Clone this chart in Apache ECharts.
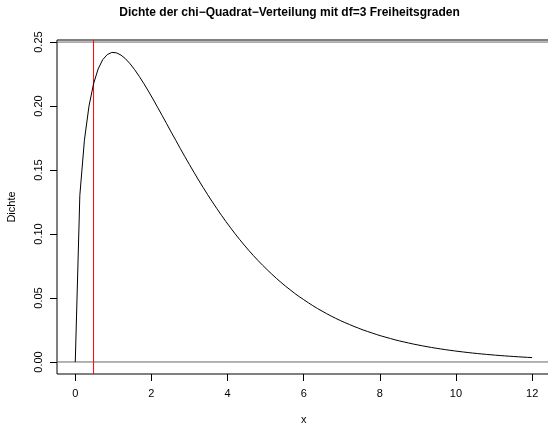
<!DOCTYPE html>
<html>
<head>
<meta charset="utf-8">
<script src="https://cdn.jsdelivr.net/npm/echarts@6/dist/echarts.min.js"></script>
<style>
html,body{margin:0;padding:0;background:#fff;overflow:hidden;}
#chart{width:548px;height:424px;}
</style>
</head>
<body>
<div id="chart"></div>
<script>
var titleText = 'Dichte der chi\u2212Quadrat\u2212Verteilung mit df=3 Freiheitsgraden';
var xName = 'x';
var yName = 'Dichte';
var xTicks = [0, 2, 4, 6, 8, 10, 12];
var yTicks = [0, 0.05, 0.10, 0.15, 0.20, 0.25];
var xRange = [-0.48, 12.48];
var yRange = [-0.0094, 0.2516];
var hLines = [0, 0.25];
var vLine = 0.48;
var xs = [0,0.12,0.24,0.36,0.48,0.6,0.72,0.84,0.96,1.08,1.2,1.32,1.44,1.56,1.68,1.8,1.92,2.04,2.16,2.28,2.4,2.52,2.64,2.76,2.88,3,3.12,3.24,3.36,3.48,3.6,3.72,3.84,3.96,4.08,4.2,4.32,4.44,4.56,4.68,4.8,4.92,5.04,5.16,5.28,5.4,5.52,5.64,5.76,5.88,6,6.12,6.24,6.36,6.48,6.6,6.72,6.84,6.96,7.08,7.2,7.32,7.44,7.56,7.68,7.8,7.92,8.04,8.16,8.28,8.4,8.52,8.64,8.76,8.88,9,9.12,9.24,9.36,9.48,9.6,9.72,9.84,9.96,10.08,10.2,10.32,10.44,10.56,10.68,10.8,10.92,11.04,11.16,11.28,11.4,11.52,11.64,11.76,11.88,12];
var ys = [0,0.1302,0.1733,0.1999,0.2174,0.2289,0.2362,0.2402,0.2419,0.2416,0.2398,0.2369,0.2330,0.2284,0.2232,0.2176,0.2117,0.2055,0.1991,0.1927,0.1862,0.1796,0.1732,0.1667,0.1604,0.1542,0.1481,0.1421,0.1363,0.1306,0.1251,0.1198,0.1146,0.1096,0.1048,0.1001,0.0956,0.0913,0.0871,0.0831,0.0793,0.0756,0.0721,0.0687,0.0654,0.0623,0.0593,0.0565,0.0537,0.0511,0.0487,0.0463,0.0440,0.0418,0.0398,0.0378,0.0359,0.0341,0.0324,0.0308,0.0293,0.0278,0.0264,0.0250,0.0238,0.0226,0.0214,0.0203,0.0193,0.0183,0.0173,0.0164,0.0156,0.0148,0.0140,0.0133,0.0126,0.01195,0.01133,0.01073,0.01017,0.00964,0.00913,0.00865,0.00820,0.00777,0.00736,0.00697,0.00660,0.00625,0.00592,0.00561,0.00531,0.00503,0.00476,0.00451,0.00427,0.00404,0.00382,0.00362,0.00343];

var FONT = '"Liberation Sans", Arial, Helvetica, sans-serif';
var pts = xs.map(function (x, i) { return [x, ys[i]]; });

var refSeries = hLines.map(function (h, i) {
  return {
    name: 'h' + i, type: 'line', silent: true, showSymbol: false, z: 1,
    data: [[xRange[0], h], [xRange[1], h]],
    lineStyle: {color: '#666666', width: 1}
  };
});
refSeries.push({
  name: 'v', type: 'line', silent: true, showSymbol: false, z: 1,
  data: [[vLine, yRange[0]], [vLine, yRange[1]]],
  lineStyle: {color: '#ff0000', width: 1}
});

var chart = echarts.init(document.getElementById('chart'), null, {renderer: 'canvas'});
chart.setOption({
  animation: false,
  backgroundColor: '#ffffff',
  title: {
    text: titleText,
    left: 289.5,
    top: 7,
    padding: 0,
    textAlign: 'center',
    textStyle: {fontFamily: FONT, fontSize: 12, fontWeight: 'bold', color: '#000'}
  },
  grid: {
    left: 57, top: 40, width: 493.4, height: 334,
    containLabel: false,
    outerBoundsMode: 'none',
    show: true, borderColor: '#000', borderWidth: 1, backgroundColor: 'transparent'
  },
  xAxis: {
    type: 'value', min: xRange[0], max: xRange[1],
    name: xName, nameLocation: 'middle', nameGap: 40,
    nameTextStyle: {fontFamily: FONT, fontSize: 11, color: '#000'},
    axisLine: {show: false, onZero: false},
    axisTick: {show: true, inside: false, length: 7, customValues: xTicks, lineStyle: {color: '#000', width: 1}},
    axisLabel: {show: true, customValues: xTicks, margin: 14, fontFamily: FONT, fontSize: 11, color: '#000'},
    splitLine: {show: false}
  },
  yAxis: {
    type: 'value', min: yRange[0], max: yRange[1],
    name: yName, nameLocation: 'middle', nameGap: 40,
    nameTextStyle: {fontFamily: FONT, fontSize: 11, color: '#000'},
    axisLine: {show: false, onZero: false},
    axisTick: {show: true, inside: false, length: 7, customValues: yTicks, lineStyle: {color: '#000', width: 1}},
    axisLabel: {show: true, customValues: yTicks, rotate: 90, margin: 13, fontFamily: FONT, fontSize: 11, color: '#000',
      formatter: function (v) { return v.toFixed(2); }},
    splitLine: {show: false}
  },
  series: refSeries.concat([{
    name: 'Dichte',
    type: 'line',
    data: pts,
    showSymbol: false,
    smooth: false,
    z: 3,
    lineStyle: {color: '#000', width: 1},
    silent: true
  }])
});
</script>
</body>
</html>
